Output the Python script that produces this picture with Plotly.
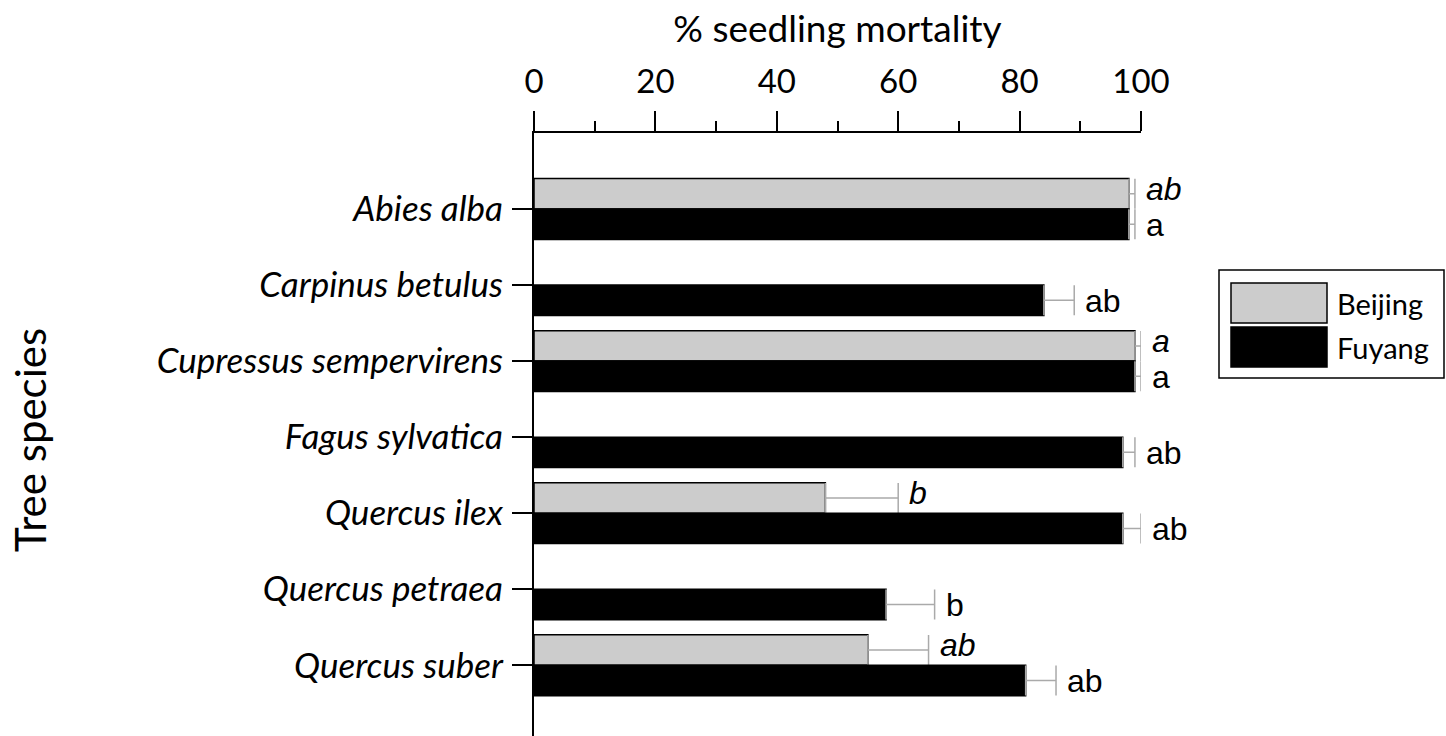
import plotly.graph_objects as go

species = ["Abies alba", "Carpinus betulus", "Cupressus sempervirens",
           "Fagus sylvatica", "Quercus ilex", "Quercus petraea", "Quercus suber"]
beijing = [98, None, 99, None, 48, None, 55]
beijing_err = [1, None, 1, None, 12, None, 10]
beijing_letters = ["ab", None, "a", None, "b", None, "ab"]
fuyang = [98, 84, 99, 97, 97, 58, 81]
fuyang_err = [1, 5, 1, 2, 3, 8, 5]
fuyang_letters = ["a", "ab", "a", "ab", "ab", "b", "ab"]
x_ticks = [0, 20, 40, 60, 80, 100]

W, H = 1446, 736
L, R, T, B = 534, 305, 133, 0
PW, PH = W - L - R, H - T - B

def px(x):
    return (x - L) / PW

def py(y):
    return (H - B - y) / PH

HUMAN = "Lato, 'Open Sans', sans-serif"
ARIAL = "'Liberation Sans', Arial, sans-serif"

fig = go.Figure()
fig.add_trace(go.Bar(
    name="Beijing", y=species, x=beijing, orientation="h",
    marker=dict(color="#cccccc", line=dict(color="black", width=1.5)),
    error_x=dict(type="data", array=beijing_err, arrayminus=[0] * len(species),
                 symmetric=False, color="#aaaaaa", thickness=1.5, width=15),
    showlegend=False,
))
fig.add_trace(go.Bar(
    name="Fuyang", y=species, x=fuyang, orientation="h",
    marker=dict(color="black", line=dict(color="black", width=1.5)),
    error_x=dict(type="data", array=fuyang_err, arrayminus=[0] * len(species),
                 symmetric=False, color="#aaaaaa", thickness=1.5, width=15),
    showlegend=False,
))

annotations = []
for s, v, e, t in zip(species, beijing, beijing_err, beijing_letters):
    if t:
        annotations.append(dict(x=v + e, y=s, xref="x", yref="y", text=t, showarrow=False,
                                xanchor="left", yanchor="middle", xshift=9, yshift=20,
                                font=dict(family=ARIAL, size=32, color="black", style="italic")))
for s, v, e, t in zip(species, fuyang, fuyang_err, fuyang_letters):
    if t:
        annotations.append(dict(x=v + e, y=s, xref="x", yref="y", text=t, showarrow=False,
                                xanchor="left", yanchor="middle", xshift=9, yshift=-16,
                                font=dict(family=ARIAL, size=32, color="black")))

# y axis title
annotations.append(dict(x=px(30), y=py(440), xref="paper", yref="paper", text="Tree species",
                        textangle=-90, showarrow=False, xanchor="center", yanchor="middle",
                        font=dict(family=HUMAN, size=42, color="black")))

# legend (manual box)
shapes = [
    dict(type="rect", xref="paper", yref="paper", x0=px(1219), x1=px(1444), y0=py(378), y1=py(270),
         line=dict(color="black", width=1.5), fillcolor="white"),
    dict(type="rect", xref="paper", yref="paper", x0=px(1231), x1=px(1327), y0=py(323), y1=py(283),
         line=dict(color="black", width=1.5), fillcolor="#cccccc"),
    dict(type="rect", xref="paper", yref="paper", x0=px(1231), x1=px(1327), y0=py(367), y1=py(327),
         line=dict(color="black", width=1.5), fillcolor="black"),
]
for name, yy in [("Beijing", 303), ("Fuyang", 347)]:
    annotations.append(dict(x=px(1335), y=py(yy), xref="paper", yref="paper", text=name,
                            showarrow=False, xanchor="left", yanchor="middle",
                            font=dict(family=HUMAN, size=29, color="black")))

fig.update_layout(
    width=W, height=H,
    margin=dict(l=L, r=R, t=T, b=B, pad=0),
    paper_bgcolor="white", plot_bgcolor="white",
    barmode="group", bargap=0.2, bargroupgap=0,
    annotations=annotations, shapes=shapes,
    font=dict(family=HUMAN, color="black"),
)
fig.update_xaxes(
    side="top", range=[0, 100], tickvals=x_ticks, ticktext=[str(v) for v in x_ticks],
    ticks="outside", ticklen=20, tickwidth=2, tickcolor="black",
    minor=dict(dtick=10, tick0=0, ticks="outside", ticklen=10, tickwidth=2, tickcolor="black"),
    showline=True, linecolor="black", linewidth=2, showgrid=False, zeroline=False,
    tickfont=dict(family=HUMAN, size=33, color="black"),
    ticklabelstandoff=5,
    title=dict(text="% seedling mortality", font=dict(family=HUMAN, size=37, color="black"), standoff=6),
    automargin=False,
)
fig.update_yaxes(
    type="category", categoryorder="array", categoryarray=species,
    range=[6.93, -1],
    ticks="outside", ticklen=20, tickwidth=2, tickcolor="black",
    showline=True, linecolor="black", linewidth=2, showgrid=False, zeroline=False,
    tickfont=dict(family=HUMAN, size=35, color="black", style="italic"),
    ticklabelstandoff=2,
    automargin=False,
)

fig.write_html("out.html", config={"displayModeBar": False},
               post_script="document.body.style.margin='0';")
